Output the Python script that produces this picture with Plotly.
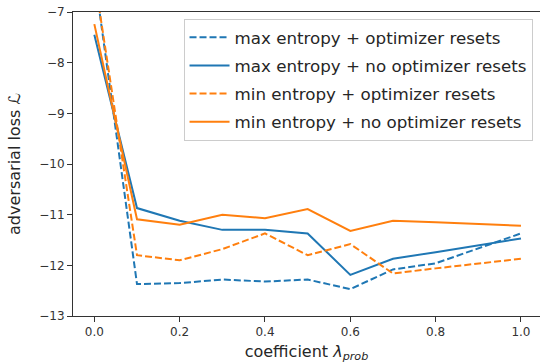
import plotly.graph_objects as go

x_vals = [0.0, 0.1, 0.2, 0.3, 0.4, 0.5, 0.6, 0.7, 0.8, 1.0]
max_ent_resets = [-6.25, -12.37, -12.35, -12.28, -12.32, -12.28, -12.47, -12.08, -11.96, -11.37]
max_ent_no_resets = [-7.45, -10.87, -11.12, -11.30, -11.30, -11.37, -12.19, -11.87, -11.74, -11.47]
min_ent_resets = [-6.30, -11.80, -11.90, -11.68, -11.37, -11.80, -11.58, -12.16, -12.06, -11.87]
min_ent_no_resets = [-7.24, -11.09, -11.20, -11.00, -11.07, -10.89, -11.32, -11.12, -11.15, -11.22]
series_names = ["max entropy + optimizer resets", "max entropy + no optimizer resets",
                "min entropy + optimizer resets", "min entropy + no optimizer resets"]
x_ticks = [0.0, 0.2, 0.4, 0.6, 0.8, 1.0]
y_ticks = [-13, -12, -11, -10, -9, -8, -7]

BLUE = "#1f77b4"
ORANGE = "#ff7f0e"
DASH = "7px,3px"

fig = go.Figure()
for i, (name, ys, color, dash) in enumerate([
    (series_names[0], max_ent_resets, BLUE, DASH),
    (series_names[1], max_ent_no_resets, BLUE, "solid"),
    (series_names[2], min_ent_resets, ORANGE, DASH),
    (series_names[3], min_ent_no_resets, ORANGE, "solid"),
]):
    fig.add_trace(go.Scatter(x=x_vals, y=ys, mode="lines", name=name,
                             legendgroup=f"g{i}",
                             line=dict(color=color, width=2, dash=dash)))

font_family = "DejaVu Sans"
fig.update_layout(
    width=540, height=363,
    margin=dict(l=73, r=0, t=12, b=47, autoexpand=False),
    paper_bgcolor="white", plot_bgcolor="white",
    font=dict(family=font_family, color="#262626"),
    showlegend=True,
    legend=dict(x=0.984, y=0.977, xanchor="right", yanchor="top",
                bgcolor="rgba(255,255,255,0.8)", bordercolor="#cccccc", borderwidth=1,
                font=dict(size=16.7, family=font_family, color="#262626"),
                tracegroupgap=3.4, itemwidth=40),
    xaxis=dict(range=[-0.05, 1.0446], tickvals=x_ticks,
               ticktext=[f"{t:.1f}" for t in x_ticks], automargin=True,
               showgrid=False, zeroline=False, showline=True, linecolor="#333333",
               linewidth=1, mirror=True, ticks="outside", ticklen=5, tickcolor="#333333",
               tickfont=dict(size=12, family=font_family, color="#333333"),
               title=dict(text="coefficient <i>λ</i><sub><i>prob</i></sub>",
                          font=dict(size=16, family=font_family, color="#262626"),
                          standoff=16)),
    yaxis=dict(range=[-13, -7], tickvals=y_ticks, automargin=True,
               showgrid=False, zeroline=False, showline=True, linecolor="#333333",
               linewidth=1, mirror=False, ticks="outside", ticklen=5, tickcolor="#333333",
               tickfont=dict(size=12, family=font_family, color="#333333"),
               title=dict(text="adversarial loss <i>ℒ</i>",
                          font=dict(size=16, family=font_family, color="#262626"),
                          standoff=14)),
)
fig.write_html("out.html", config={"displayModeBar": False},
               post_script="document.body.style.margin='0px';")
